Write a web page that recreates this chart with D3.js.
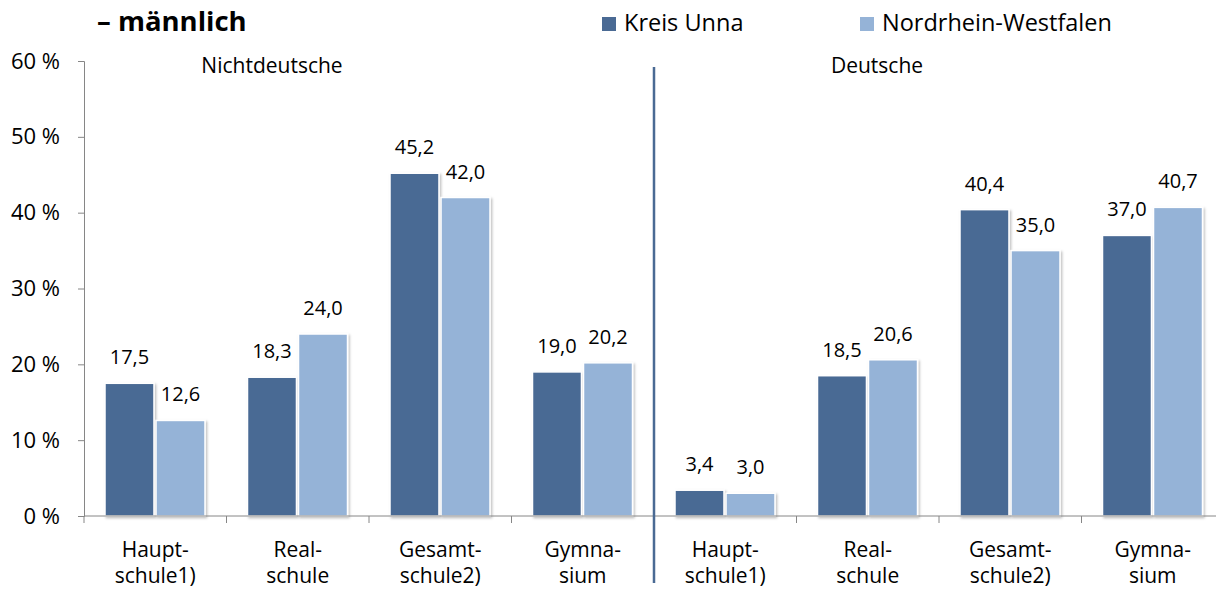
<!DOCTYPE html>
<html>
<head>
<meta charset="utf-8">
<script src="https://cdn.jsdelivr.net/npm/d3@7"></script>
<style>
  body { margin: 0; background: #fff; }
  svg text { font-family: "Open Sans", sans-serif; fill: #000; }
</style>
</head>
<body>
<div id="wrapper"></div>
<script>
// chart data
var categories = [
  ["Haupt-", "schule1)"], ["Real-", "schule"], ["Gesamt-", "schule2)"], ["Gymna-", "sium"],
  ["Haupt-", "schule1)"], ["Real-", "schule"], ["Gesamt-", "schule2)"], ["Gymna-", "sium"]
];
var kreisUnna = [17.5, 18.3, 45.2, 19.0, 3.4, 18.5, 40.4, 37.0];
var nrw = [12.6, 24.0, 42.0, 20.2, 3.0, 20.6, 35.0, 40.7];
var seriesNames = ["Kreis Unna", "Nordrhein-Westfalen"];
var groupNames = ["Nichtdeutsche", "Deutsche"];
var yTicks = [0, 10, 20, 30, 40, 50, 60];

var width = 1216, height = 590;
var colors = ["#4a6a94", "#95b3d7"];

var svg = d3.select("#wrapper").append("svg")
  .attr("width", width).attr("height", height);

var defs = svg.append("defs");
var shadow = defs.append("filter").attr("id", "shadow")
  .attr("x", "-10%").attr("y", "-10%").attr("width", "130%").attr("height", "130%");
shadow.append("feDropShadow").attr("dx", 1.5).attr("dy", 1.5)
  .attr("stdDeviation", 1).attr("flood-color", "#000").attr("flood-opacity", 0.25);

var x0 = 84, x1 = 1224;
var y = d3.scaleLinear().domain([0, 60]).range([516, 61]);
var x = d3.scaleBand().domain(d3.range(categories.length)).range([x0, x1]);
var xs = d3.scaleBand().domain([0, 1]).range([21, 121]).paddingInner(0.04);

// title
svg.append("text").attr("x", 97).attr("y", 31)
  .style("font-size", "27.5px").style("font-weight", "bold")
  .text("– männlich");

// legend
var legX = [602, 860];
seriesNames.forEach(function(n, i) {
  svg.append("rect").attr("x", legX[i]).attr("y", 17).attr("width", 14).attr("height", 14)
    .attr("fill", colors[i]);
  svg.append("text").attr("x", legX[i] + 22).attr("y", 31)
    .style("font-size", "23.5px").text(n);
});

// bars
var data = [];
categories.forEach(function(c, i) {
  data.push({ i: i, s: 0, v: kreisUnna[i] });
  data.push({ i: i, s: 1, v: nrw[i] });
});

svg.append("g").selectAll("rect").data(data).enter().append("rect")
  .attr("x", function(d) { return x(d.i) + xs(d.s); })
  .attr("y", function(d) { return y(d.v); })
  .attr("width", xs.bandwidth())
  .attr("height", function(d) { return y(0) - y(d.v); })
  .attr("fill", function(d) { return colors[d.s]; })
  .attr("stroke", "#fff").attr("stroke-width", 1.5)
  .attr("filter", "url(#shadow)");

svg.append("g").selectAll("text").data(data).enter().append("text")
  .attr("x", function(d) { return x(d.i) + xs(d.s) + xs.bandwidth() / 2; })
  .attr("y", function(d) { return y(d.v) - 19; })
  .attr("text-anchor", "middle")
  .style("font-size", "20px")
  .text(function(d) { return d3.format(".1f")(d.v).replace(".", ","); });

// y axis
var yAxis = d3.axisLeft(y).tickValues(yTicks).tickSize(6).tickPadding(18)
  .tickFormat(function(d) { return d + " %"; });
var gy = svg.append("g").attr("transform", "translate(" + x0 + ",0)").call(yAxis);
gy.select(".domain").attr("stroke", "#868686");
gy.selectAll(".tick line").attr("stroke", "#868686");
gy.selectAll(".tick text").style("font-size", "22px").attr("fill", "#000")
  .style("font-family", "'Open Sans', sans-serif");

// x axis line and ticks
var gx = svg.append("g");
gx.append("line").attr("x1", x0).attr("x2", x1).attr("y1", y(0)).attr("y2", y(0))
  .attr("stroke", "#868686");
gx.selectAll("line.tk").data(d3.range(categories.length + 1)).enter().append("line")
  .attr("class", "tk")
  .attr("x1", function(d) { return x0 + d * x.bandwidth(); })
  .attr("x2", function(d) { return x0 + d * x.bandwidth(); })
  .attr("y1", y(0)).attr("y2", y(0) + 7)
  .attr("stroke", "#868686");

// category labels, two lines each
categories.forEach(function(c, i) {
  c.forEach(function(line, k) {
    svg.append("text")
      .attr("x", x(i) + x.bandwidth() / 2)
      .attr("y", 557 + k * 26)
      .attr("text-anchor", "middle")
      .style("font-size", "21px")
      .text(line);
  });
});

// divider between groups
var divX = x(4);
svg.append("line").attr("x1", divX).attr("x2", divX).attr("y1", 67).attr("y2", 583)
  .attr("stroke", "#4a6a94").attr("stroke-width", 2.5);

// group labels
svg.append("text").attr("x", 272).attr("y", 73).attr("text-anchor", "middle")
  .style("font-size", "21px").text(groupNames[0]);
svg.append("text").attr("x", 877).attr("y", 73).attr("text-anchor", "middle")
  .style("font-size", "21px").text(groupNames[1]);
</script>
</body>
</html>
